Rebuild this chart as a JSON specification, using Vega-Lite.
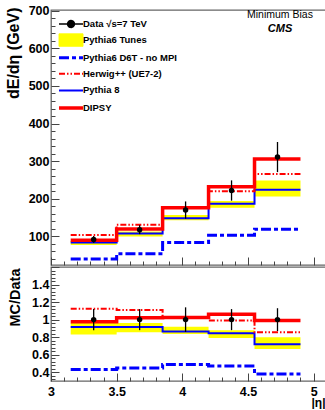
{
  "$schema": "https://vega.github.io/schema/vega-lite/v6.json",
  "padding": {"left": 4, "top": 4, "right": -3, "bottom": 0},
  "bounds": "flush",
  "spacing": 2,
  "config": {
    "view": {"stroke": "#666666", "strokeWidth": 1.3},
    "font": "Liberation Sans",
    "axis": {
      "grid": false,
      "domain": false,
      "tickColor": "#444444",
      "tickWidth": 1,
      "labelFont": "Liberation Sans",
      "labelFontWeight": "bold",
      "labelFontSize": 12.5,
      "labelColor": "black",
      "labelFlush": false,
      "labelOverlap": false,
      "titleFont": "Liberation Sans",
      "titleFontWeight": "bold",
      "titleColor": "black"
    }
  },
  "datasets": {
    "steps": [
      {"panel": "top", "series": "Pythia6 D6T - no MPI", "x": 3.15, "y": 40},
      {"panel": "top", "series": "Pythia6 D6T - no MPI", "x": 3.5, "y": 54},
      {"panel": "top", "series": "Pythia6 D6T - no MPI", "x": 3.85, "y": 84},
      {"panel": "top", "series": "Pythia6 D6T - no MPI", "x": 4.2, "y": 103},
      {"panel": "top", "series": "Pythia6 D6T - no MPI", "x": 4.55, "y": 119},
      {"panel": "top", "series": "Pythia6 D6T - no MPI", "x": 4.9, "y": 119},
      {"panel": "top", "series": "Pythia 8", "x": 3.15, "y": 84},
      {"panel": "top", "series": "Pythia 8", "x": 3.5, "y": 108},
      {"panel": "top", "series": "Pythia 8", "x": 3.85, "y": 148},
      {"panel": "top", "series": "Pythia 8", "x": 4.2, "y": 187},
      {"panel": "top", "series": "Pythia 8", "x": 4.55, "y": 224},
      {"panel": "top", "series": "Pythia 8", "x": 4.9, "y": 224},
      {"panel": "top", "series": "DIPSY", "x": 3.15, "y": 90},
      {"panel": "top", "series": "DIPSY", "x": 3.5, "y": 120},
      {"panel": "top", "series": "DIPSY", "x": 3.85, "y": 176},
      {"panel": "top", "series": "DIPSY", "x": 4.2, "y": 232},
      {"panel": "top", "series": "DIPSY", "x": 4.55, "y": 306},
      {"panel": "top", "series": "DIPSY", "x": 4.9, "y": 306},
      {"panel": "top", "series": "Herwig++ (UE7-2)", "x": 3.15, "y": 103.5},
      {"panel": "top", "series": "Herwig++ (UE7-2)", "x": 3.5, "y": 131},
      {"panel": "top", "series": "Herwig++ (UE7-2)", "x": 3.85, "y": 176},
      {"panel": "top", "series": "Herwig++ (UE7-2)", "x": 4.2, "y": 220},
      {"panel": "top", "series": "Herwig++ (UE7-2)", "x": 4.55, "y": 266},
      {"panel": "top", "series": "Herwig++ (UE7-2)", "x": 4.9, "y": 266},
      {"panel": "ratio", "series": "Pythia6 D6T - no MPI", "x": 3.15, "y": 0.432},
      {"panel": "ratio", "series": "Pythia6 D6T - no MPI", "x": 3.5, "y": 0.448},
      {"panel": "ratio", "series": "Pythia6 D6T - no MPI", "x": 3.85, "y": 0.487},
      {"panel": "ratio", "series": "Pythia6 D6T - no MPI", "x": 4.2, "y": 0.47},
      {"panel": "ratio", "series": "Pythia6 D6T - no MPI", "x": 4.55, "y": 0.38},
      {"panel": "ratio", "series": "Pythia6 D6T - no MPI", "x": 4.9, "y": 0.38},
      {"panel": "ratio", "series": "Pythia 8", "x": 3.15, "y": 0.915},
      {"panel": "ratio", "series": "Pythia 8", "x": 3.5, "y": 0.915},
      {"panel": "ratio", "series": "Pythia 8", "x": 3.85, "y": 0.865},
      {"panel": "ratio", "series": "Pythia 8", "x": 4.2, "y": 0.845},
      {"panel": "ratio", "series": "Pythia 8", "x": 4.55, "y": 0.72},
      {"panel": "ratio", "series": "Pythia 8", "x": 4.9, "y": 0.72},
      {"panel": "ratio", "series": "DIPSY", "x": 3.15, "y": 0.975},
      {"panel": "ratio", "series": "DIPSY", "x": 3.5, "y": 1.02},
      {"panel": "ratio", "series": "DIPSY", "x": 3.85, "y": 1.025},
      {"panel": "ratio", "series": "DIPSY", "x": 4.2, "y": 1.06},
      {"panel": "ratio", "series": "DIPSY", "x": 4.55, "y": 0.99},
      {"panel": "ratio", "series": "DIPSY", "x": 4.9, "y": 0.99},
      {"panel": "ratio", "series": "Herwig++ (UE7-2)", "x": 3.15, "y": 1.125},
      {"panel": "ratio", "series": "Herwig++ (UE7-2)", "x": 3.5, "y": 1.11},
      {"panel": "ratio", "series": "Herwig++ (UE7-2)", "x": 3.85, "y": 1.03},
      {"panel": "ratio", "series": "Herwig++ (UE7-2)", "x": 4.2, "y": 0.99},
      {"panel": "ratio", "series": "Herwig++ (UE7-2)", "x": 4.55, "y": 0.855},
      {"panel": "ratio", "series": "Herwig++ (UE7-2)", "x": 4.9, "y": 0.855}
    ],
    "band": [
      {"panel": "top", "x": 3.15, "lo": 77, "hi": 88},
      {"panel": "top", "x": 3.5, "lo": 100, "hi": 113},
      {"panel": "top", "x": 3.85, "lo": 143, "hi": 157},
      {"panel": "top", "x": 4.2, "lo": 176, "hi": 194},
      {"panel": "top", "x": 4.55, "lo": 206, "hi": 249},
      {"panel": "top", "x": 4.9, "lo": 206, "hi": 249},
      {"panel": "ratio", "x": 3.15, "lo": 0.83, "hi": 0.96},
      {"panel": "ratio", "x": 3.5, "lo": 0.855, "hi": 0.96},
      {"panel": "ratio", "x": 3.85, "lo": 0.835, "hi": 0.92},
      {"panel": "ratio", "x": 4.2, "lo": 0.79, "hi": 0.88},
      {"panel": "ratio", "x": 4.55, "lo": 0.665, "hi": 0.8},
      {"panel": "ratio", "x": 4.9, "lo": 0.665, "hi": 0.8}
    ],
    "pts": [
      {"panel": "top", "x": 3.325, "y": 92, "ylo": 83, "yhi": 101},
      {"panel": "top", "x": 3.675, "y": 118, "ylo": 106, "yhi": 130},
      {"panel": "top", "x": 4.025, "y": 170, "ylo": 147, "yhi": 193},
      {"panel": "top", "x": 4.375, "y": 222, "ylo": 195, "yhi": 249},
      {"panel": "top", "x": 4.725, "y": 311, "ylo": 271, "yhi": 351},
      {"panel": "ratio", "x": 3.325, "y": 1, "ylo": 0.88, "yhi": 1.12},
      {"panel": "ratio", "x": 3.675, "y": 1, "ylo": 0.88, "yhi": 1.12},
      {"panel": "ratio", "x": 4.025, "y": 1, "ylo": 0.86, "yhi": 1.14},
      {"panel": "ratio", "x": 4.375, "y": 1, "ylo": 0.88, "yhi": 1.12},
      {"panel": "ratio", "x": 4.725, "y": 1, "ylo": 0.87, "yhi": 1.13}
    ]
  },
  "resolve": {
    "scale": {"color": "independent", "strokeDash": "independent", "strokeWidth": "independent"},
    "legend": {"color": "independent", "strokeDash": "independent", "strokeWidth": "independent"}
  },
  "vconcat": [
    {
      "width": 276,
      "height": 255,
      "title": {
        "text": "Minimum Bias",
        "subtitle": "CMS",
        "anchor": "end",
        "align": "center",
        "dx": -47,
        "offset": -29,
        "font": "Liberation Sans",
        "fontSize": 10.5,
        "fontWeight": "normal",
        "color": "black",
        "subtitleFont": "Liberation Sans",
        "subtitleFontSize": 11,
        "subtitleFontWeight": "bold",
        "subtitleFontStyle": "italic",
        "subtitleColor": "black",
        "subtitlePadding": 2
      },
      "layer": [
        {
          "data": {"name": "band"},
          "transform": [{"filter": "datum.panel === 'top'"}],
          "mark": {"type": "area", "interpolate": "step-after", "fill": "#ffff00", "opacity": 1},
          "encoding": {
            "x": {
              "field": "x", "type": "quantitative",
              "scale": {"domain": [3, 5.102], "nice": false, "zero": false},
              "axis": {
                "orient": "bottom", "title": null, "labels": false,
                "labelOverlap": false,
                "tickCount": 500,
                "values": [3, 3.1, 3.2, 3.3, 3.4, 3.5, 3.6, 3.7, 3.8, 3.9, 4, 4.1, 4.2, 4.3, 4.4, 4.5, 4.6, 4.7, 4.8, 4.9, 5],
                "tickSize": {"condition": {"test": "abs(datum.value*2 - round(datum.value*2)) < 0.01", "value": -8}, "value": -4}
              }
            },
            "y": {
              "field": "lo", "type": "quantitative",
              "scale": {"domain": [24, 702], "nice": false, "zero": false},
              "axis": {
                "orient": "left",
                "title": "dE/dη (GeV)",
                "titleFontSize": 16,
                "titleAngle": -90,
                "titleAlign": "right",
                "titleBaseline": "top",
                "titleX": -46,
                "titleY": -3,
                "labelOverlap": false,
                "tickCount": 500,
                "values": [40, 60, 80, 100, 120, 140, 160, 180, 200, 220, 240, 260, 280, 300, 320, 340, 360, 380, 400, 420, 440, 460, 480, 500, 520, 540, 560, 580, 600, 620, 640, 660, 680, 700],
                "labelExpr": "datum.value % 100 === 0 ? datum.label : ''",
                "labelFontSize": {"condition": {"test": "datum.value % 100 === 0", "value": 12.5}, "value": 0},
                "labelPadding": 10,
                "tickSize": {"condition": {"test": "datum.value % 100 === 0", "value": -8}, "value": -4}
              }
            },
            "y2": {"field": "hi"}
          }
        },
        {
          "data": {"name": "steps"},
          "transform": [{"filter": "datum.panel === 'top'"}],
          "mark": {"type": "line", "interpolate": "step-after", "strokeCap": "butt"},
          "encoding": {
            "x": {"field": "x", "type": "quantitative"},
            "y": {"field": "y", "type": "quantitative"},
            "color": {
              "field": "series", "type": "nominal",
              "scale": {
                "domain": ["Data √s=7 TeV", "Pythia6 Tunes", "Pythia6 D6T - no MPI", "Herwig++ (UE7-2)", "Pythia 8", "DIPSY"],
                "range": ["#000000", "#ffff00", "#0000ff", "#ff0000", "#0000ff", "#ff0000"]
              },
              "legend": {
                "orient": "none", "legendX": 13, "legendY": 8, "title": null, "padding": 0,
                "symbolType": "M-2.4,0H2.4", "symbolSize": 100, "symbolOpacity": 1,
                "labelFont": "Liberation Sans", "labelFontSize": 9.5, "labelFontWeight": "bold", "labelColor": "black",
                "labelOffset": 5, "rowPadding": -0.4, "gridAlign": "all",
                "encode": {
                  "symbols": {
                    "update": {
                      "shape": [
                        {"test": "datum.value === 'Data √s=7 TeV'", "value": "M-2.4,0H2.4M0.7,0A0.7,0.7,0,1,1,-0.7,0A0.7,0.7,0,1,1,0.7,0Z"},
                        {"test": "datum.value === 'Pythia6 Tunes'", "value": "M-2.4,-1.25H2.4V1.25H-2.4Z"},
                        {"value": "M-2.4,0H2.4"}
                      ],
                      "fill": [
                        {"test": "datum.value === 'Data √s=7 TeV'", "value": "black"},
                        {"test": "datum.value === 'Pythia6 Tunes'", "value": "#ffff00"},
                        {"value": "transparent"}
                      ]
                    }
                  }
                }
              }
            },
            "strokeDash": {
              "field": "series", "type": "nominal",
              "scale": {
                "domain": ["Data √s=7 TeV", "Pythia6 Tunes", "Pythia6 D6T - no MPI", "Herwig++ (UE7-2)", "Pythia 8", "DIPSY"],
                "range": [[1, 0], [1, 0], [10, 3, 4, 3], [6, 2, 1.5, 2, 1.5, 2], [1, 0], [1, 0]]
              },
              "legend": {
                "orient": "none", "legendX": 13, "legendY": 8, "title": null, "padding": 0,
                "symbolType": "M-2.4,0H2.4", "symbolSize": 100, "symbolOpacity": 1,
                "labelFont": "Liberation Sans", "labelFontSize": 9.5, "labelFontWeight": "bold", "labelColor": "black",
                "labelOffset": 5, "rowPadding": -0.4, "gridAlign": "all"
              }
            },
            "strokeWidth": {
              "field": "series", "type": "nominal",
              "scale": {
                "type": "ordinal",
                "domain": ["Data √s=7 TeV", "Pythia6 Tunes", "Pythia6 D6T - no MPI", "Herwig++ (UE7-2)", "Pythia 8", "DIPSY"],
                "range": [1.3, 1, 3, 2, 2, 3.5]
              },
              "legend": {
                "orient": "none", "legendX": 13, "legendY": 8, "title": null, "padding": 0,
                "symbolType": "M-2.4,0H2.4", "symbolSize": 100, "symbolOpacity": 1,
                "labelFont": "Liberation Sans", "labelFontSize": 9.5, "labelFontWeight": "bold", "labelColor": "black",
                "labelOffset": 5, "rowPadding": -0.4, "gridAlign": "all"
              }
            }
          }
        },
        {
          "data": {"name": "pts"},
          "transform": [{"filter": "datum.panel === 'top'"}],
          "mark": {"type": "rule", "color": "black", "strokeWidth": 1.3},
          "encoding": {
            "x": {"field": "x", "type": "quantitative"},
            "y": {"field": "ylo", "type": "quantitative"},
            "y2": {"field": "yhi"}
          }
        },
        {
          "data": {"name": "pts"},
          "transform": [{"filter": "datum.panel === 'top'"}],
          "mark": {"type": "circle", "color": "black", "opacity": 1, "size": 30},
          "encoding": {
            "x": {"field": "x", "type": "quantitative"},
            "y": {"field": "y", "type": "quantitative"}
          }
        }
      ]
    },
    {
      "width": 276,
      "height": 114,
      "layer": [
        {
          "data": {"name": "band"},
          "transform": [{"filter": "datum.panel === 'ratio'"}],
          "mark": {"type": "area", "interpolate": "step-after", "fill": "#ffff00", "opacity": 1},
          "encoding": {
            "x": {
              "field": "x", "type": "quantitative",
              "scale": {"domain": [3, 5.102], "nice": false, "zero": false},
              "axis": {
                "orient": "bottom",
                "title": "|η|",
                "titleFontSize": 12,
                "titleAlign": "right",
                "titleBaseline": "alphabetic",
                "titleX": 274,
                "titleY": 25,
                "labelOverlap": false,
                "tickCount": 500,
                "values": [3, 3.1, 3.2, 3.3, 3.4, 3.5, 3.6, 3.7, 3.8, 3.9, 4, 4.1, 4.2, 4.3, 4.4, 4.5, 4.6, 4.7, 4.8, 4.9, 5],
                "format": "~g",
                "labelExpr": "abs(datum.value*2 - round(datum.value*2)) < 0.01 ? datum.label : ''",
                "labelFontSize": {"condition": {"test": "abs(datum.value*2 - round(datum.value*2)) < 0.01", "value": 12.5}, "value": 0},
                "labelPadding": 12,
                "tickSize": {"condition": {"test": "abs(datum.value*2 - round(datum.value*2)) < 0.01", "value": -8}, "value": -4}
              }
            },
            "y": {
              "field": "lo", "type": "quantitative",
              "scale": {"domain": [0.3, 1.6], "nice": false, "zero": false},
              "axis": {
                "orient": "left",
                "title": "MC/Data",
                "titleFontSize": 14.5,
                "titleAngle": -90,
                "titleAlign": "right",
                "titleBaseline": "top",
                "titleX": -43,
                "titleY": 1,
                "labelOverlap": false,
                "tickCount": 500,
                "values": [0.32, 0.36, 0.4, 0.44, 0.48, 0.52, 0.56, 0.6, 0.64, 0.68, 0.72, 0.76, 0.8, 0.84, 0.88, 0.92, 0.96, 1, 1.04, 1.08, 1.12, 1.16, 1.2, 1.24, 1.28, 1.32, 1.36, 1.4, 1.44, 1.48, 1.52, 1.56, 1.6],
                "format": "~g",
                "labelExpr": "abs(datum.value*5 - round(datum.value*5)) < 0.01 && datum.value < 1.5 ? datum.label : ''",
                "labelFontSize": {"condition": {"test": "abs(datum.value*5 - round(datum.value*5)) < 0.01 && datum.value < 1.5", "value": 12.5}, "value": 0},
                "labelPadding": 10,
                "tickSize": {"condition": {"test": "abs(datum.value*5 - round(datum.value*5)) < 0.01", "value": -8}, "value": -4}
              }
            },
            "y2": {"field": "hi"}
          }
        },
        {
          "data": {"name": "steps"},
          "transform": [{"filter": "datum.panel === 'ratio'"}],
          "mark": {"type": "line", "interpolate": "step-after", "strokeCap": "butt"},
          "encoding": {
            "x": {"field": "x", "type": "quantitative"},
            "y": {"field": "y", "type": "quantitative"},
            "color": {
              "field": "series", "type": "nominal",
              "scale": {
                "domain": ["Data √s=7 TeV", "Pythia6 Tunes", "Pythia6 D6T - no MPI", "Herwig++ (UE7-2)", "Pythia 8", "DIPSY"],
                "range": ["#000000", "#ffff00", "#0000ff", "#ff0000", "#0000ff", "#ff0000"]
              },
              "legend": null
            },
            "strokeDash": {
              "field": "series", "type": "nominal",
              "scale": {
                "domain": ["Data √s=7 TeV", "Pythia6 Tunes", "Pythia6 D6T - no MPI", "Herwig++ (UE7-2)", "Pythia 8", "DIPSY"],
                "range": [[1, 0], [1, 0], [10, 3, 4, 3], [6, 2, 1.5, 2, 1.5, 2], [1, 0], [1, 0]]
              },
              "legend": null
            },
            "strokeWidth": {
              "field": "series", "type": "nominal",
              "scale": {
                "type": "ordinal",
                "domain": ["Data √s=7 TeV", "Pythia6 Tunes", "Pythia6 D6T - no MPI", "Herwig++ (UE7-2)", "Pythia 8", "DIPSY"],
                "range": [1.3, 1, 3, 2, 2, 3.5]
              },
              "legend": null
            }
          }
        },
        {
          "data": {"name": "pts"},
          "transform": [{"filter": "datum.panel === 'ratio'"}],
          "mark": {"type": "rule", "color": "black", "strokeWidth": 1.3},
          "encoding": {
            "x": {"field": "x", "type": "quantitative"},
            "y": {"field": "ylo", "type": "quantitative"},
            "y2": {"field": "yhi"}
          }
        },
        {
          "data": {"name": "pts"},
          "transform": [{"filter": "datum.panel === 'ratio'"}],
          "mark": {"type": "circle", "color": "black", "opacity": 1, "size": 30},
          "encoding": {
            "x": {"field": "x", "type": "quantitative"},
            "y": {"field": "y", "type": "quantitative"}
          }
        }
      ]
    }
  ]
}
